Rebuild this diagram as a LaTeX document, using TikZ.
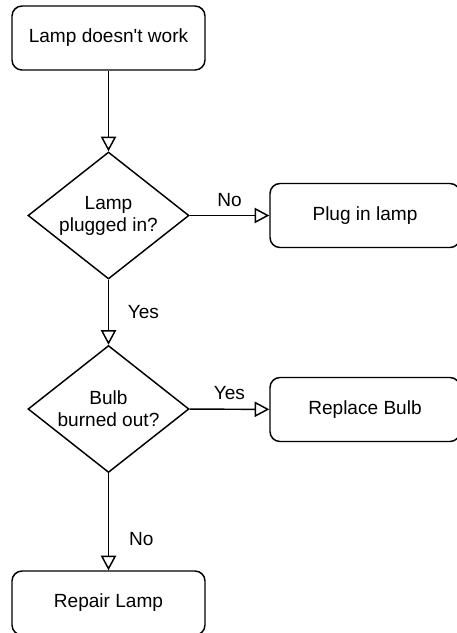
\documentclass[tikz,border=0pt]{standalone}
\usepackage{fontspec}
\setmainfont{Liberation Sans}
\usetikzlibrary{arrows.meta,shapes.geometric}

\begin{document}
\begin{tikzpicture}[x=0.75pt,y=-0.75pt]
%	\draw[gray,very thin] (0,0) grid[step=50] (457,633); % Grid for easy orientation
	\useasboundingbox (0,0) rectangle (457,633);
	\tikzstyle{shp} = [
		draw=black, line width=1.1pt, align=center, inner sep=0pt,
		font=\fontsize{14.3}{16.5}\selectfont
	]
	\tikzstyle{process} = [
		shp, rectangle, rounded corners=7.5pt, minimum width=144.75pt, minimum height=48pt
	]
	\tikzstyle{process_wide} = [
		process, minimum width=142.5pt
	]
	\tikzstyle{decision} = [
		shp, diamond, inner sep=-12pt, minimum width=120.75pt, minimum height=95.25pt
	]
	\tikzstyle{answer} = [
		font=\fontsize{14.3}{16.5}\selectfont, inner sep=0pt
	]
	\tikzstyle{conn} = [
		line width=1.1pt, -{Triangle[open, length=11pt, width=11.5pt]}
	]

	% Start
	\node (Start) [process] at (108.5,38) {Lamp doesn\textquotesingle t work};

	% Plugged in?
	\node (Plugged) [decision] at (108.5,215.5) {Lamp\\plugged in?};
	\node (PlugIn) [process_wide] at (365,215.5) {Plug in lamp};

	% Bulb burned out?
	\node (Bulb) [decision] at (108.5,409) {Bulb\\burned out?};
	\node (Replace) [process_wide] at (365,409.5) {Replace Bulb};

	% Repair
	\node (Repair) [process] at (108.5,603) {Repair Lamp};

	% Connections
	\draw[conn] (Start) -- (Plugged);
	\draw[conn] (Plugged) -- node [answer, pos=0.5, yshift=11.5] {No} (PlugIn);
	\draw[conn] (Plugged) -- node [answer, pos=0.5, anchor=west, xshift=14] {Yes} (Bulb);
	\draw[conn] (Bulb) -- node [answer, pos=0.5, yshift=12] {Yes} (Replace);
	\draw[conn] (Bulb) -- node [answer, pos=0.68, anchor=west, xshift=15] {No} (Repair);

\end{tikzpicture}
\end{document}
